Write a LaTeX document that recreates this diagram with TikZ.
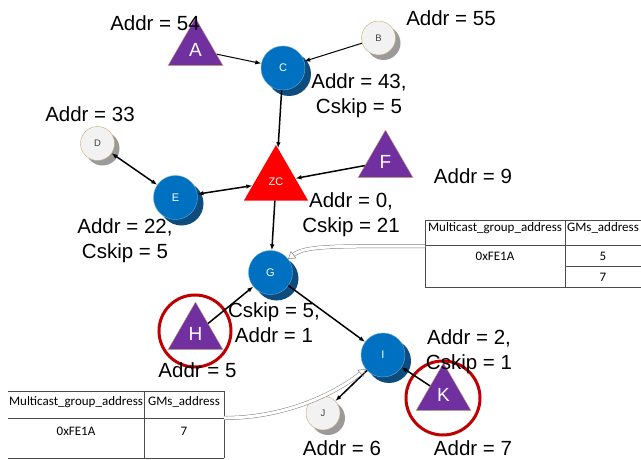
\documentclass[tikz,border=0pt]{standalone}
\usepackage{fontspec}
\setmainfont{Liberation Sans}
\newfontfamily\tabfont{Carlito}
\usetikzlibrary{shapes.geometric,shadows,arrows.meta}
\definecolor{zblue}{HTML}{0070C0}
\definecolor{zshadow}{HTML}{0E4C7E}
\definecolor{zpurple}{HTML}{7030A0}
\definecolor{ztan}{HTML}{C9A97A}
\definecolor{zlight}{HTML}{F2F2F2}
\definecolor{zgray}{HTML}{9A9A9A}
\definecolor{zring}{HTML}{C00000}

\begin{document}
\begin{tikzpicture}[x=1pt,y=-1pt,
  router/.style={circle,fill=zblue,draw=zblue!60!white,thin,minimum size=44pt,inner sep=0pt,
    text=white,font=\fontsize{11}{11}\selectfont,
    drop shadow={shadow xshift=6pt,shadow yshift=-6pt,fill=zshadow,opacity=1}},
  enddev/.style={circle,fill=zlight,draw=ztan,thin,minimum size=34pt,inner sep=0pt,
    text=black!75,font=\fontsize{9.5}{9.5}\selectfont,
    drop shadow={shadow xshift=5pt,shadow yshift=-5pt,fill=zgray,opacity=1}},
  member/.style={regular polygon,regular polygon sides=3,fill=zpurple,draw=ztan,thin,
    minimum size=63.5pt,inner sep=0pt,text=white,font=\fontsize{19}{19}\selectfont},
  zcoord/.style={member,fill=red,draw=none,minimum size=74pt,font=\fontsize{11}{11}\selectfont},
  ring/.style={draw=zring,line width=3pt},
  lbl/.style={anchor=north,inner sep=0pt,align=center,font=\fontsize{20.5}{25}\selectfont},
  link/.style={line width=1.5pt,-{Latex[length=6pt,width=4.5pt]}},
  twoway/.style={line width=1.5pt,{Latex[length=6pt,width=4.5pt]}-{Latex[length=6pt,width=4.5pt]}},
  thinlink/.style={link,line width=1pt},
  tabtxt/.style={anchor=base,inner sep=0pt,font=\tabfont\fontsize{13}{13}\selectfont},
  hollow/.style={draw=gray,double=white,double distance=3pt,line width=0.5pt,
    -{Triangle[open,length=7pt,width=9pt]}}]
\useasboundingbox (0,0) rectangle (641,460);

\node[member] (A) at (195.5,49.75) {A};
\node[enddev] (B) at (378.5,38) {B};
\node[router] (C) at (283,68) {C};
\node[enddev] (D) at (97.5,143.5) {D};
\node[router] (E) at (175.5,197.5) {E};
\node[zcoord] (ZC) at (276,182) {ZC};
\node[member] (F) at (385.5,161.75) {F};
\node[router] (G) at (270.5,272.5) {G};
\node[member] (H) at (195.5,333.75) {H};
\node[router] (I) at (383,355) {I};
\node[enddev] (J) at (323,413) {J};
\node[member] (K) at (443.5,394.75) {K};

\draw[ring] (195,331) circle (36);
\draw[ring] (443,398) circle (37);

\draw[thinlink] (A) -- (C);
\draw[thinlink] (B) -- (C);
\draw[link] (C) -- (ZC);
\draw[link] (F) -- (ZC);
\draw[twoway] (E) -- (ZC);
\draw[twoway] (E) -- (D);
\draw[link] (ZC) -- (G);
\draw[link] (H) -- (G);
\draw[link] (G) -- (I);
\draw[link] (I) -- (J);
\draw[link] (K) -- (I);

\node[lbl] (lA) at (155,15) {Addr = 54};
\node[lbl] (lB) at (451,10) {Addr = 55};
\node[lbl] (lC) at (359,73) {Addr = 43,\\Cskip = 5};
\node[lbl] (lD) at (90,106) {Addr = 33};
\node[lbl] (lF) at (473,168) {Addr = 9};
\node[lbl] (lE) at (125,218) {Addr = 22,\\Cskip = 5};
\node[lbl] (lZC) at (351,192) {Addr = 0,\\Cskip = 21};
\node[lbl] (lG) at (274,302) {Cskip = 5,\\Addr = 1};
\node[lbl] (lH) at (197.5,362) {Addr = 5};
\node[lbl] (lI) at (469,329) {Addr = 2,\\Cskip = 1};
\node[lbl] (lJ) at (342,440) {Addr = 6};
\node[lbl] (lK) at (473,440) {Addr = 7};

\draw[thin,black!70] (425,220) rectangle (641,287);
\draw[thin,black!70] (425,245) -- (641,245);
\draw[thin,black!70] (565,266) -- (641,266);
\draw[thin,black!70] (565,220) -- (565,287);
\node[tabtxt] (rh1) at (495,231) {Multicast\_group\_address};
\node[tabtxt] (rh2) at (603,231) {GMs\_address};
\node[tabtxt] (rg) at (495,260) {0xFE1A};
\node[tabtxt] (rm1) at (603,260) {5};
\node[tabtxt] (rm2) at (603,281) {7};

\draw[thin,black!70] (8,391) -- (224,391);
\draw[thin,black!70] (8,418) -- (224,418);
\draw[thin,black!70] (8,458) -- (224,458);
\draw[thin,black!70] (144,391) -- (144,458);
\draw[thin,black!70] (224,391) -- (224,458);
\node[tabtxt] (lh1) at (76,405) {Multicast\_group\_address};
\node[tabtxt] (lh2) at (184,405) {GMs\_address};
\node[tabtxt] (lg) at (76,435) {0xFE1A};
\node[tabtxt] (lm) at (184,435) {7};

\coordinate (rtab) at (425,246);
\coordinate (ltab) at (224,418);
\draw[hollow] (rtab) .. controls (330,246) and (305,246) .. (G);
\draw[hollow] (ltab) .. controls (290,418) and (340,390) .. (I);
\end{tikzpicture}
\end{document}
